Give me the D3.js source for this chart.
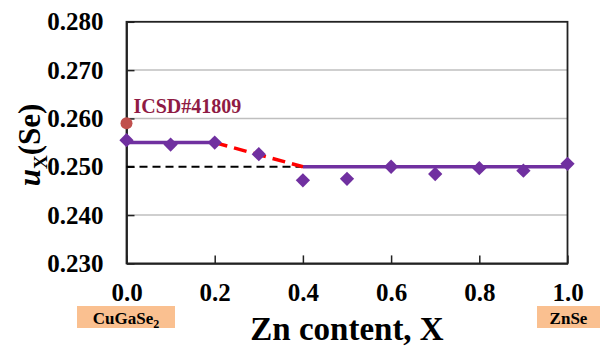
<!DOCTYPE html>
<html>
<head>
<meta charset="utf-8">
<script src="https://cdn.jsdelivr.net/npm/d3@7"></script>
<style>
  html, body { margin: 0; padding: 0; background: #fff; }
  svg { display: block; }
</style>
</head>
<body>
<svg id="chart" width="600" height="347" font-family="Liberation Serif" font-weight="bold"></svg>
<script>
// Zn content X and the Se anion position u_X(Se)
const znContent = [0.0, 0.1, 0.2, 0.3, 0.4, 0.5, 0.6, 0.7, 0.8, 0.9, 1.0];
const uSe = [0.2555, 0.2546, 0.2550, 0.2526, 0.2472, 0.2475, 0.2500, 0.2485, 0.2497, 0.2492, 0.2506];

// Trend lines: chalcopyrite plateau, transition, zinc-blende plateau
const plateauLeft = [[0.0, 0.255], [0.2, 0.255]];
const transition = [[0.2, 0.255], [0.4, 0.250]];
const plateauRight = [[0.4, 0.250], [1.0, 0.250]];
const idealRef = [[0.0, 0.250], [0.4, 0.250]];

// Reference value from the ICSD database
const icsdPoint = [0.0, 0.259];
const icsdLabel = "ICSD#41809";

const xTicks = [0.0, 0.2, 0.4, 0.6, 0.8, 1.0];
const yTicks = [0.230, 0.240, 0.250, 0.260, 0.270, 0.280];
const yGrid = [0.240, 0.260, 0.270];

const FONT = "Liberation Serif";
const svg = d3.select("#chart");
const plotLeft = 126.5, plotRight = 567.5, plotTop = 21.8, plotBottom = 263.4;

const x = d3.scaleLinear().domain([0, 1]).range([plotLeft, plotRight]);
const y = d3.scaleLinear().domain([0.23, 0.28]).range([plotBottom, plotTop]);

// grid lines
svg.append("g").selectAll("line").data(yGrid).join("line")
  .attr("x1", plotLeft).attr("x2", plotRight)
  .attr("y1", d => y(d)).attr("y2", d => y(d))
  .attr("stroke", "#bfbfbf").attr("stroke-width", 1.5);

// frame
svg.append("rect")
  .attr("x", plotLeft).attr("y", plotTop)
  .attr("width", plotRight - plotLeft).attr("height", plotBottom - plotTop)
  .attr("fill", "none").attr("stroke", "#222").attr("stroke-width", 1.8);

// axes with inward ticks
const xAxis = d3.axisBottom(x).tickValues(xTicks).tickFormat(d3.format(".1f"))
  .tickSizeInner(-8).tickSizeOuter(0).tickPadding(20);
const gx = svg.append("g").attr("transform", `translate(0,${plotBottom})`).call(xAxis)
  .attr("font-family", FONT).attr("font-size", 25).attr("font-weight", "bold");
gx.select(".domain").attr("stroke", "#222").attr("stroke-width", 1.8);
gx.selectAll(".tick line").attr("stroke", "#222").attr("stroke-width", 1.5);
gx.selectAll(".tick text").attr("fill", "#000");

const yAxis = d3.axisLeft(y).tickValues(yTicks).tickFormat(d3.format(".3f"))
  .tickSizeInner(-8).tickSizeOuter(0).tickPadding(23);
const gy = svg.append("g").attr("transform", `translate(${plotLeft},0)`).call(yAxis)
  .attr("font-family", FONT).attr("font-size", 25).attr("font-weight", "bold");
gy.select(".domain").attr("stroke", "#222").attr("stroke-width", 1.8);
gy.selectAll(".tick line").attr("stroke", "#222").attr("stroke-width", 1.5);
gy.selectAll(".tick text").attr("fill", "#000");

const line = d3.line().x(d => x(d[0])).y(d => y(d[1]));

svg.append("path").attr("d", line(idealRef))
  .attr("fill", "none").attr("stroke", "#000").attr("stroke-width", 2)
  .attr("stroke-dasharray", "8,5");

svg.append("path").attr("d", line(plateauLeft))
  .attr("fill", "none").attr("stroke", "#7030a0").attr("stroke-width", 3.5);
svg.append("path").attr("d", line(plateauRight))
  .attr("fill", "none").attr("stroke", "#7030a0").attr("stroke-width", 3.5);
svg.append("path").attr("d", line(transition))
  .attr("fill", "none").attr("stroke", "#ff0000").attr("stroke-width", 3.5)
  .attr("stroke-dasharray", "13,7");

// ICSD reference point and label
svg.append("circle")
  .attr("cx", x(icsdPoint[0])).attr("cy", y(icsdPoint[1])).attr("r", 6)
  .attr("fill", "#c0504d");
svg.append("text")
  .attr("x", x(icsdPoint[0]) + 7).attr("y", y(icsdPoint[1]) - 10)
  .attr("font-family", FONT).attr("font-weight", "bold")
  .attr("font-size", 20).attr("fill", "#8f1b44").text(icsdLabel);

// diamond markers
const diamond = d3.symbol().type(d3.symbolDiamond2).size(130);
svg.append("g").selectAll("path").data(znContent).join("path")
  .attr("transform", (d, i) => `translate(${x(d)},${y(uSe[i])})`)
  .attr("d", diamond)
  .attr("fill", "#7030a0");

// y-axis title: u_X(Se)
const yt = svg.append("text")
  .attr("transform", `translate(40,145) rotate(-90)`)
  .attr("font-family", FONT).attr("font-weight", "bold")
  .attr("text-anchor", "middle").attr("font-size", 31).attr("fill", "#000");
yt.append("tspan").attr("font-style", "italic").text("u");
yt.append("tspan").attr("font-size", 19).attr("dy", 7).text("X");
yt.append("tspan").attr("dy", -7).text("(Se)");

// x-axis title
svg.append("text")
  .attr("x", 347).attr("y", 340).attr("text-anchor", "middle")
  .attr("font-family", FONT).attr("font-weight", "bold")
  .attr("font-size", 33).attr("fill", "#000").text("Zn content, X");

// end-member labels
const endBoxes = [
  { x0: 77, x1: 175, main: "CuGaSe", sub: "2" },
  { x0: 537, x1: 600, main: "ZnSe", sub: "" }
];
endBoxes.forEach(b => {
  svg.append("rect").attr("x", b.x0).attr("y", 306)
    .attr("width", b.x1 - b.x0).attr("height", 22).attr("fill", "#fac090");
  const t = svg.append("text").attr("x", (b.x0 + b.x1) / 2).attr("y", 324)
    .attr("font-family", FONT).attr("font-weight", "bold")
    .attr("text-anchor", "middle").attr("font-size", 17).attr("fill", "#000");
  t.append("tspan").text(b.main);
  if (b.sub) t.append("tspan").attr("font-size", 12).attr("dy", 4).text(b.sub);
});
</script>
</body>
</html>
